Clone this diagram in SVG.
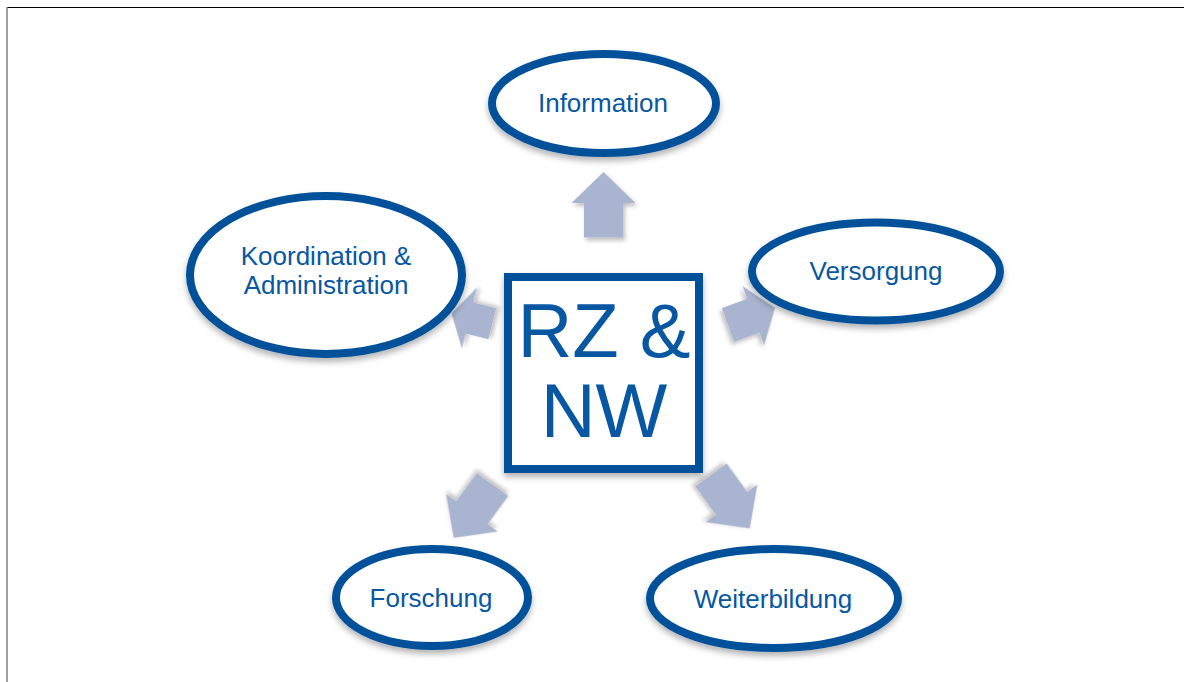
<svg xmlns="http://www.w3.org/2000/svg" width="1184" height="682" viewBox="0 0 1184 682">
  <defs>
    <filter id="sh" x="-20%" y="-20%" width="140%" height="150%">
      <feDropShadow dx="0" dy="4" stdDeviation="3" flood-color="#000" flood-opacity="0.3"/>
    </filter>
    <filter id="ash" x="-30%" y="-30%" width="160%" height="160%">
      <feDropShadow dx="2" dy="3" stdDeviation="2" flood-color="#000" flood-opacity="0.25"/>
    </filter>
  </defs>
  <style>
    .node { fill: #ffffff; stroke: #02519A; stroke-width: 8; filter: url(#sh); }
    .lbl { font-family: "Liberation Sans", Arial, sans-serif; font-size: 26px; fill: #0757A3; text-anchor: middle; }
    .big { font-family: "Liberation Sans", Arial, sans-serif; font-size: 76px; fill: #0757A3; text-anchor: middle; }
    .arr { fill: #A9B4D0; filter: url(#ash); }
  </style>
  <rect x="0" y="0" width="1184" height="682" fill="#ffffff"/>
  <line x1="7" y1="7.5" x2="1184" y2="7.5" stroke="#000" stroke-width="1.2"/>
  <line x1="7" y1="7" x2="7" y2="682" stroke="#808080" stroke-width="1.5"/>

  <g id="connectors">
    <polygon class="arr" transform="translate(603.5,237.5)" points="-19.5,0 19.5,0 19.5,-34.5 32,-34.5 0,-65.5 -32,-34.5 -19.5,-34.5"/>
    <polygon class="arr" transform="translate(728,325) rotate(70)" points="-18,0 18,0 18,-27 31.5,-27 0,-50 -31.5,-27 -18,-27"/>
    <polygon class="arr" transform="translate(492.3,323.7) rotate(284)" points="-16,0 16,0 16,-23.5 31.5,-23.5 0,-42 -31.5,-23.5 -16,-23.5"/>
    <polygon class="arr" transform="translate(711,475) rotate(144)" points="-19.5,0 19.5,0 19.5,-35 32,-35 0,-66 -32,-35 -19.5,-35"/>
    <polygon class="arr" transform="translate(492.5,484.5) rotate(216)" points="-19.5,0 19.5,0 19.5,-35 32,-35 0,-66 -32,-35 -19.5,-35"/>
  </g>

  <g id="center">
    <rect class="node" x="508" y="277" width="191" height="192"/>
    <text class="big" x="604" y="357">RZ &amp;</text>
    <text class="big" x="604" y="437">NW</text>
  </g>

  <g id="information">
    <ellipse class="node" cx="604" cy="103.5" rx="112" ry="49.5"/>
    <text class="lbl" x="603" y="112">Information</text>
  </g>

  <g id="koordination">
    <ellipse class="node" cx="326" cy="275" rx="136" ry="79"/>
    <text class="lbl" x="326" y="265">Koordination &amp;</text>
    <text class="lbl" x="326" y="294">Administration</text>
  </g>

  <g id="versorgung">
    <ellipse class="node" cx="876" cy="271.5" rx="124" ry="49"/>
    <text class="lbl" x="876" y="280">Versorgung</text>
  </g>

  <g id="forschung">
    <ellipse class="node" cx="432" cy="597.5" rx="96" ry="48.5"/>
    <text class="lbl" x="431" y="607">Forschung</text>
  </g>

  <g id="weiterbildung">
    <ellipse class="node" cx="774" cy="598.5" rx="124" ry="49.5"/>
    <text class="lbl" x="773" y="608">Weiterbildung</text>
  </g>
</svg>
